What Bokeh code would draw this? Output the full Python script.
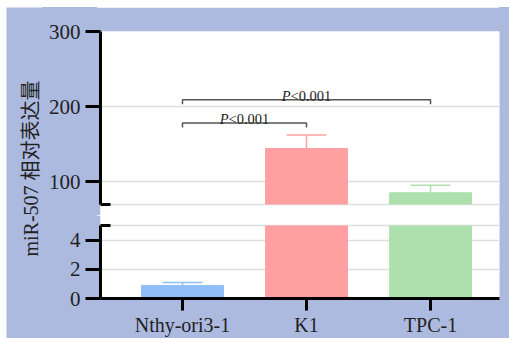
import numpy as np
from bokeh.plotting import figure
from bokeh.models import FixedTicker, Range1d, Spacer
from bokeh.layouts import column, row
from bokeh.core.properties import value
from bokeh.embed import file_html
from bokeh.resources import INLINE

# ---- data ----
categories = ["Nthy-ori3-1", "K1", "TPC-1"]
means = [0.9, 144, 85]
errors = [0.2, 18, 10]
bar_colors = ["#8fbff6", "#ff9fa1", "#aee0ad"]
upper_ticks = [100, 200, 300]
lower_ticks = [0, 2, 4]
lower_max = 5        # top of lower axis segment
upper_min = 70       # bottom of upper axis segment
comparisons = [(0, 1), (0, 2)]
bracket_levels = [178, 209]
p_texts = ["<0.001", "<0.001"]
y_title = "miR-507 相对表达量"

LAV = "#adbadf"
SERIF = "'Liberation Serif'"
x = np.arange(1, len(categories) + 1)
m = np.array(means, float)
e = np.array(errors, float)
bc = np.array(bar_colors)
bw = 0.66
cap = 0.16

common = dict(width=467, x_range=Range1d(0.339, 3.556), output_backend="svg",
              toolbar_location=None, min_border_left=58, min_border_right=10,
              background_fill_color="white", border_fill_color=LAV,
              outline_line_color=None)

def style_y(p, ticks, minor, bounds):
    ax = p.yaxis[0]
    ax.ticker = FixedTicker(ticks=ticks, minor_ticks=minor)
    ax.bounds = bounds
    ax.axis_line_width = 3
    ax.axis_line_color = "black"
    ax.major_tick_line_width = 3
    ax.major_tick_out = 15
    ax.major_tick_in = 0
    ax.minor_tick_line_width = 3
    ax.minor_tick_in = 10
    ax.minor_tick_out = 0
    ax.major_label_text_font = SERIF
    ax.major_label_text_font_size = "21px"
    ax.major_label_text_color = "#222222"
    ax.major_label_standoff = 5

# ---- upper segment ----
top = figure(height=208, y_range=Range1d(54.7, 300), x_axis_location=None,
             min_border_top=24, min_border_bottom=0, **common)
style_y(top, upper_ticks, [upper_min], (upper_min, 300))
top.ygrid.ticker = FixedTicker(ticks=[upper_min] + upper_ticks[:-1])
top.ygrid.grid_line_color = "#dedede"
top.ygrid.grid_line_width = 1.5
top.xgrid.visible = False

mt = m > upper_min
top.vbar(x=x[mt], bottom=upper_min, top=m[mt], width=bw,
         fill_color=bc[mt].tolist(), line_color=bc[mt].tolist())
top.segment(x0=x[mt], x1=x[mt], y0=m[mt], y1=(m + e)[mt],
            line_color=bc[mt].tolist(), line_width=1.5)
top.segment(x0=x[mt] - cap, x1=x[mt] + cap, y0=(m + e)[mt], y1=(m + e)[mt],
            line_color=bc[mt].tolist(), line_width=1.5)

drop = 6
for (i, j), h, t in zip(comparisons, bracket_levels, p_texts):
    top.line(x=[x[i], x[i], x[j], x[j]], y=[h - drop, h, h, h - drop],
             line_color="#555555", line_width=1.5)
    mid = (x[i] + x[j]) / 2
    top.text(x=[mid], y=[h], text=["P"], text_font=value(SERIF), text_font_style="italic",
             text_font_size="14.5px", text_color="#222222", text_align="left",
             text_baseline="alphabetic", x_offset=-24.8, y_offset=-4)
    top.text(x=[mid], y=[h], text=[t], text_font=value(SERIF),
             text_font_size="14.5px", text_color="#222222", text_align="left",
             text_baseline="alphabetic", x_offset=-16, y_offset=-4)

# ---- lower segment ----
bot = figure(height=123, y_range=Range1d(0, 5.72), min_border_top=0,
             min_border_bottom=40, **common)
style_y(bot, lower_ticks, [lower_max], (0, lower_max))
bot.ygrid.ticker = FixedTicker(ticks=lower_ticks[1:] + [lower_max])
bot.ygrid.grid_line_color = "#dedede"
bot.ygrid.grid_line_width = 1.5
bot.xgrid.visible = False

bot.vbar(x=x, bottom=0, top=np.minimum(m, lower_max), width=bw,
         fill_color=bar_colors, line_color=bar_colors)
mb = (m + e) < lower_max
bot.segment(x0=x[mb], x1=x[mb], y0=m[mb], y1=(m + e)[mb],
            line_color=bc[mb].tolist(), line_width=1.5)
bot.segment(x0=x[mb] - cap, x1=x[mb] + cap, y0=(m + e)[mb], y1=(m + e)[mb],
            line_color=bc[mb].tolist(), line_width=1.5)

xa = bot.xaxis[0]
xa.ticker = FixedTicker(ticks=x.tolist())
xa.major_label_overrides = {int(k): c for k, c in zip(x, categories)}
xa.axis_line_width = 3
xa.axis_line_color = "black"
xa.major_tick_line_width = 3
xa.major_tick_out = 12
xa.major_tick_in = 0
xa.minor_tick_line_color = None
xa.major_label_text_font = SERIF
xa.major_label_text_font_size = "20px"
xa.major_label_text_color = "#222222"
xa.major_label_standoff = 3

# ---- y title strip ----
lab = figure(width=36, height=331, x_range=Range1d(0, 36), y_range=Range1d(0, 331),
             output_backend="svg", toolbar_location=None, x_axis_location=None,
             y_axis_location=None, min_border=0, background_fill_color=LAV,
             border_fill_color=LAV, outline_line_color=None)
lab.xgrid.visible = False
lab.ygrid.visible = False
lab.text(x=[24], y=[170], text=[y_title], angle=np.pi / 2, text_align="center",
         text_baseline="middle", text_font=value(SERIF + ", 'Noto Sans CJK SC'"),
         text_font_size="20px", text_color="#222222")

bg = (f"linear-gradient(to right, {LAV} 0px, {LAV} 55px, white 55px, "
      f"white 457px, {LAV} 457px, {LAV} 100%)")
inner = column(top, bot, spacing=0, styles={"background": bg})
layout = column(Spacer(height=7),
                row(Spacer(width=6), lab, inner, spacing=0),
                spacing=0)
open("out.html", "w").write(file_html(layout, INLINE))
